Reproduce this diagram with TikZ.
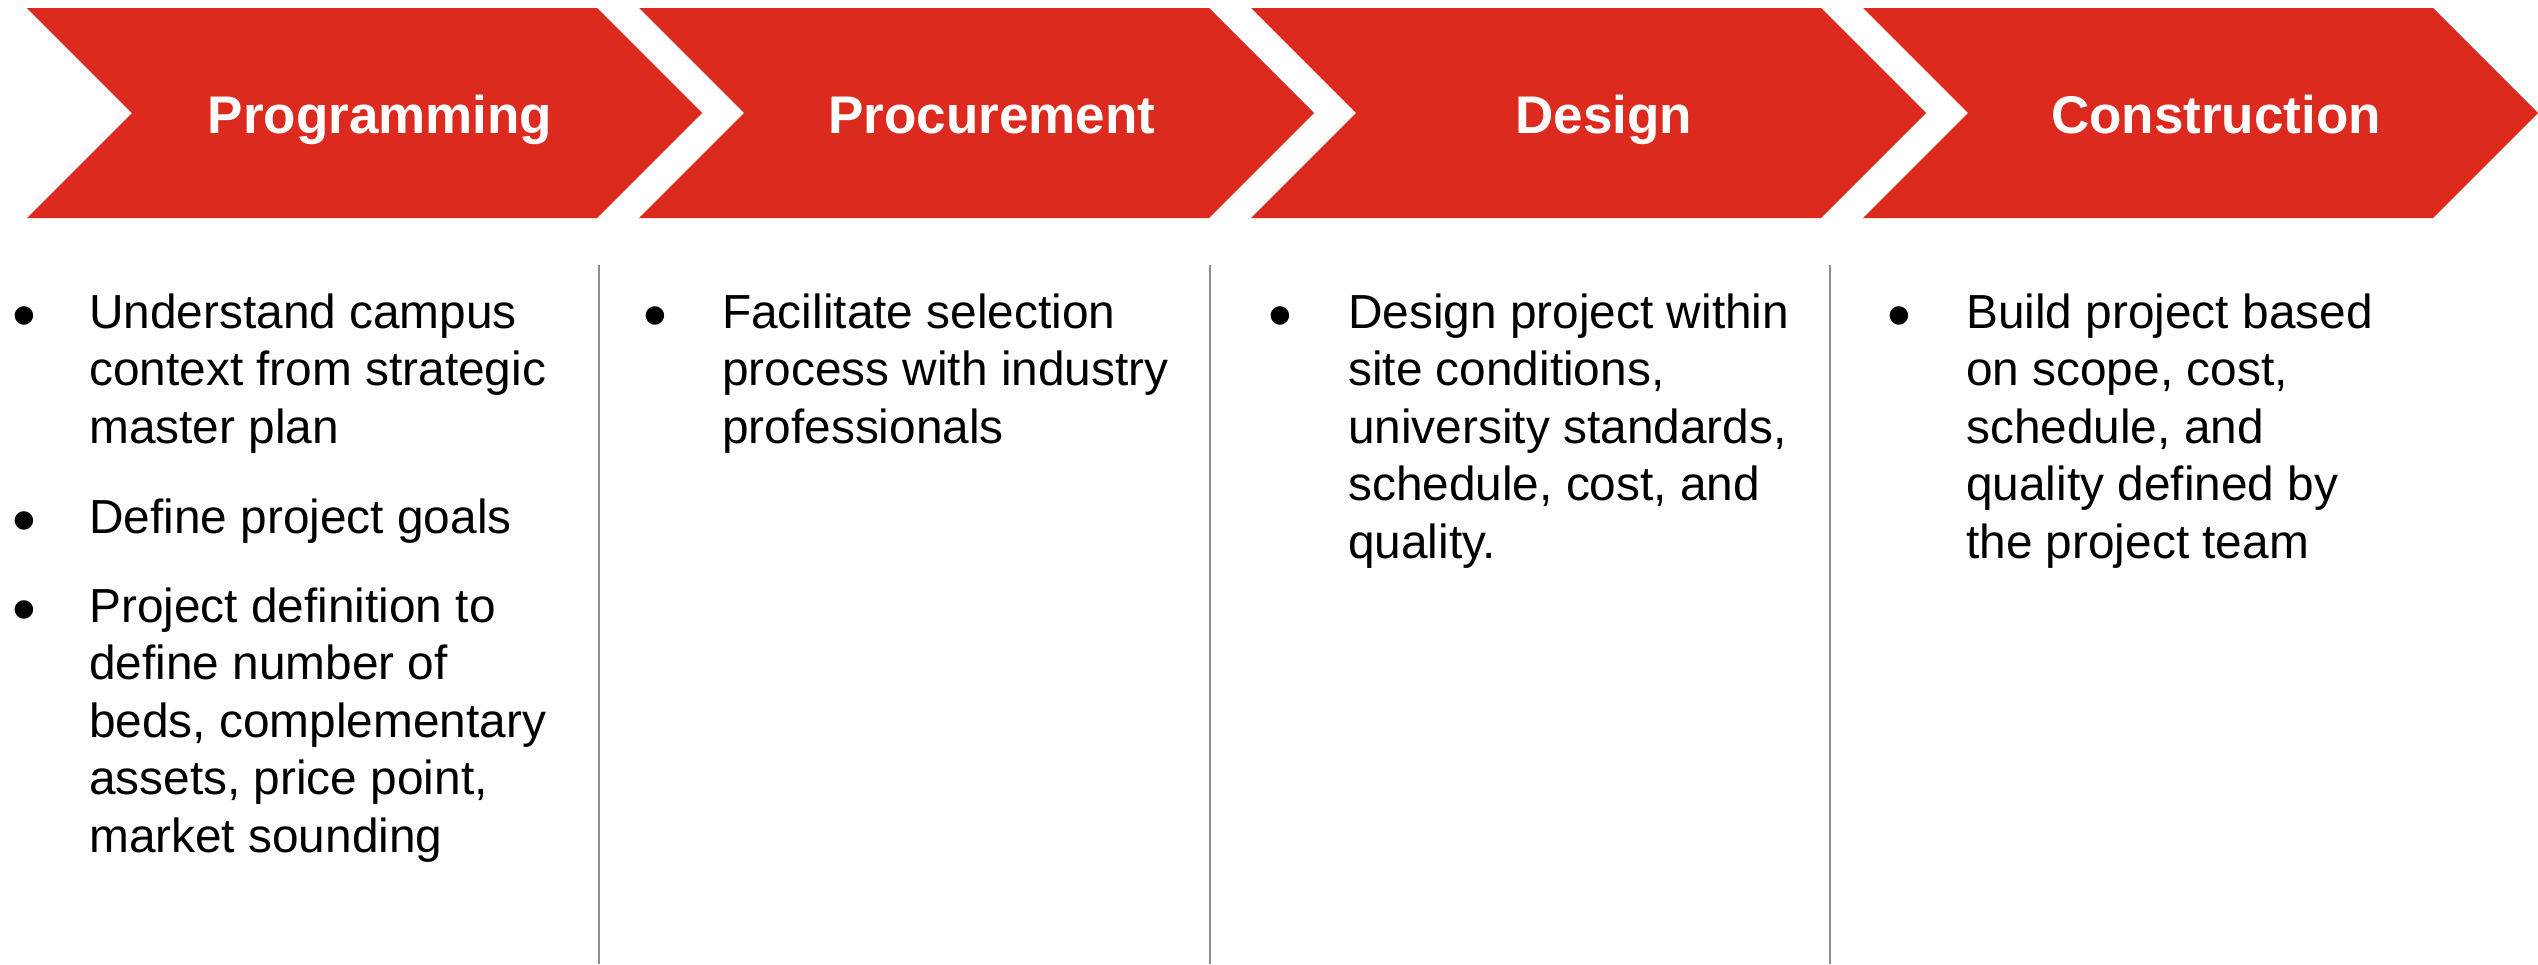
\documentclass[tikz,border=0pt]{standalone}
\usepackage{fontspec}
\setmainfont{Liberation Sans}
\definecolor{chevred}{RGB}{220,42,31}
\definecolor{sepgray}{RGB}{140,140,140}
\begin{document}
\begin{tikzpicture}[x=1pt,y=-1pt,
  chev/.style={fill=chevred,draw=none},
  title/.style={font=\fontsize{53}{60}\selectfont\bfseries,text=white,anchor=base,inner sep=0pt},
  body/.style={font=\fontsize{47.8}{57.5}\selectfont,anchor=base west,inner sep=0pt},
  bul/.style={font=\fontsize{68}{70}\selectfont,anchor=center,inner sep=0pt},
  sep/.style={draw=sepgray,line width=2.6pt}]
\useasboundingbox[fill=white] (0,0) rectangle (2538,964);
% chevrons
\foreach \i in {0,1,2,3}{
  \pgfmathsetmacro{\xo}{27+612*\i}
  \fill[chev] (\xo,8) -- ({\xo+570},8) -- ({\xo+675},113) -- ({\xo+570},218) -- (\xo,218) -- ({\xo+105},113) -- cycle;
}
\node[title] (t1) at (380,133) {Programming};
\node[title] (t2) at (992,133) {Procurement};
\node[title] (t3) at (1604,133) {Design};
\node[title] (t4) at (2216,133) {Construction};
% separators
\draw[sep] (599,265) -- (599,964);
\draw[sep] (1210,265) -- (1210,964);
\draw[sep] (1830,265) -- (1830,964);
% column 1
\node[bul] (b11) at (24.5,323) {•};
\node[body] (l111) at (89,328) {Understand campus};
\node[body] (l112) at (89,385.5) {context from strategic};
\node[body] (l113) at (89,443) {master plan};
\node[bul] (b12) at (24.5,528) {•};
\node[body] (l121) at (89,533) {Define project goals};
\node[bul] (b13) at (24.5,617) {•};
\node[body] (l131) at (89,622) {Project definition to};
\node[body] (l132) at (89,679.5) {define number of};
\node[body] (l133) at (89,737) {beds, complementary};
\node[body] (l134) at (89,794.5) {assets, price point,};
\node[body] (l135) at (89,852) {market sounding};
% column 2
\node[bul] (b21) at (655,323) {•};
\node[body] (l211) at (722,328) {Facilitate selection};
\node[body] (l212) at (722,385.5) {process with industry};
\node[body] (l213) at (722,443) {professionals};
% column 3
\node[bul] (b31) at (1280,323) {•};
\node[body] (l311) at (1348,328) {Design project within};
\node[body] (l312) at (1348,385.5) {site conditions,};
\node[body] (l313) at (1348,443) {university standards,};
\node[body] (l314) at (1348,500.5) {schedule, cost, and};
\node[body] (l315) at (1348,558) {quality.};
% column 4
\node[bul] (b41) at (1899,323) {•};
\node[body] (l411) at (1966,328) {Build project based};
\node[body] (l412) at (1966,385.5) {on scope, cost,};
\node[body] (l413) at (1966,443) {schedule, and};
\node[body] (l414) at (1966,500.5) {quality defined by};
\node[body] (l415) at (1966,558) {the project team};
\end{tikzpicture}
\end{document}
